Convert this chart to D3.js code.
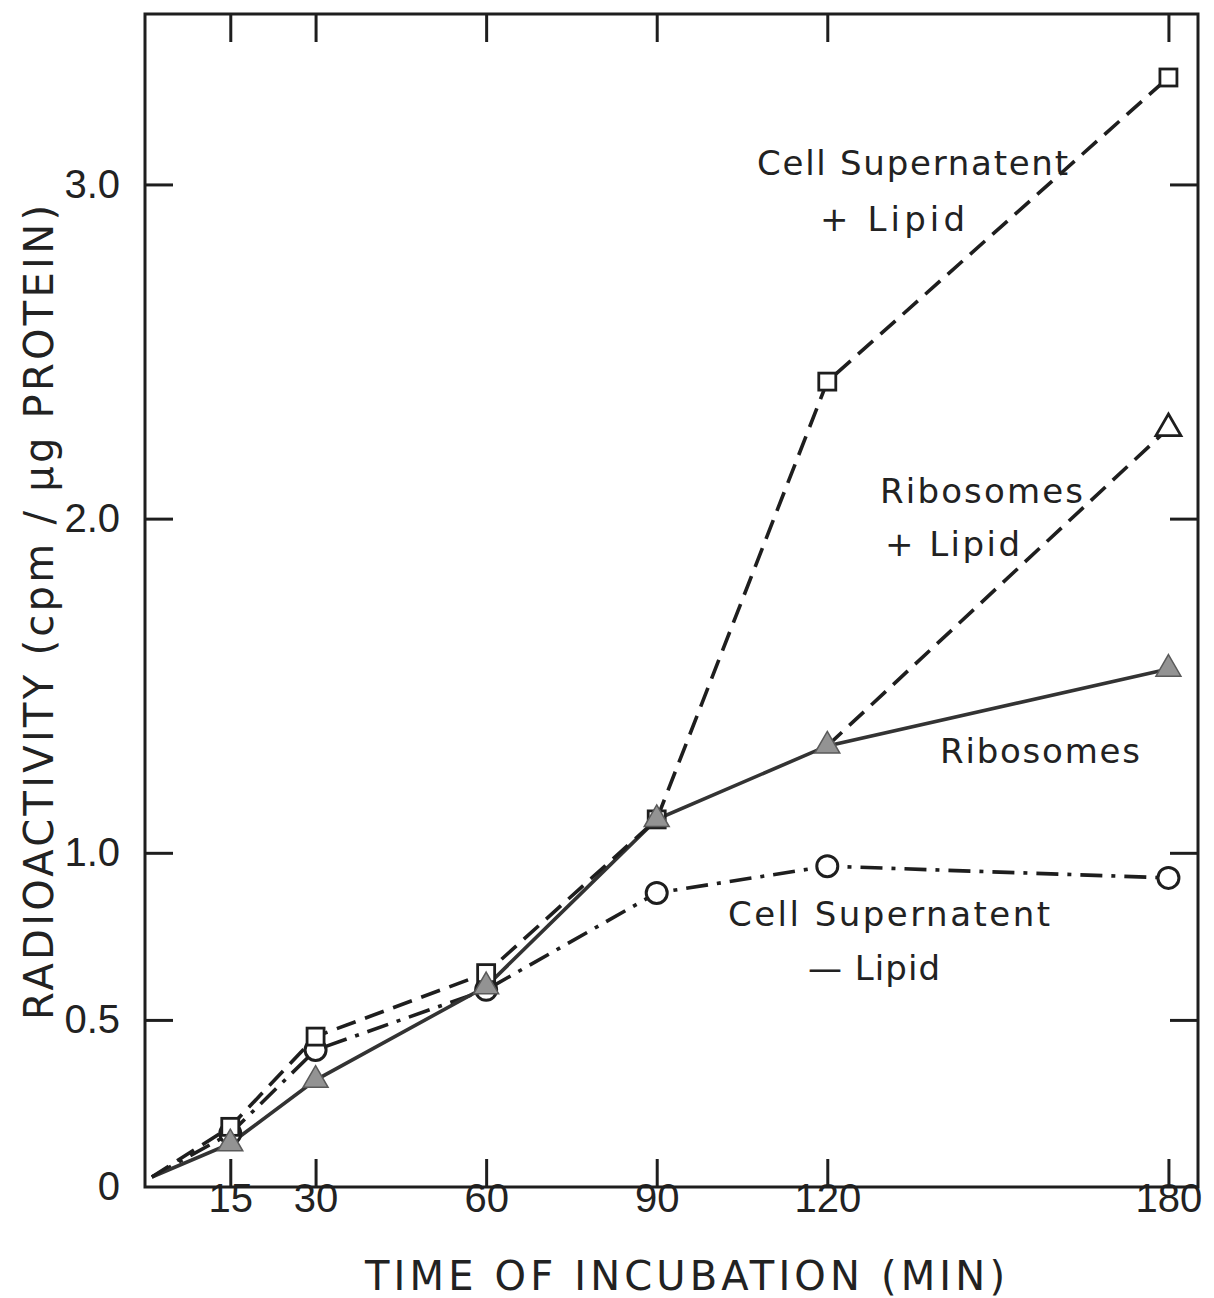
<!DOCTYPE html>
<html>
<head>
<meta charset="utf-8">
<script src="https://cdn.jsdelivr.net/npm/d3@7"></script>
<style>
  html, body { margin: 0; padding: 0; background: #fff; }
  svg { display: block; }
  text { font-family: "DejaVu Sans", sans-serif; fill: #222; }
</style>
</head>
<body>
<svg id="chart" width="1214" height="1298"></svg>
<script>
// Incubation times (min)
const times = [0, 15, 30, 60, 90, 120, 180];

// Radioactivity (cpm / µg protein) for each preparation
const cellSupLipid   = [0.03, 0.18, 0.45, 0.64, 1.10, 2.41, 3.32]; // squares, dashed
const cellSupNoLipid = [0.03, 0.16, 0.41, 0.59, 0.88, 0.96, 0.925]; // circles, dash-dot
const ribosomes      = [0.03, 0.13, 0.32, 0.60, 1.10, 1.32, 1.55]; // filled triangles, solid
const ribosomesLipid = [null, null, null, null, null, 1.32, 2.27]; // open triangle, dashed

const xTicks = [15, 30, 60, 90, 120, 180];
const yTicks = [0, 0.5, 1.0, 2.0, 3.0];
const yTickLabels = ["0", "0.5", "1.0", "2.0", "3.0"];

const svg = d3.select("#chart");
const frame = { left: 145, right: 1198, top: 14, bottom: 1187 };

const x = d3.scaleLinear().domain([0, 185.2]).range([frame.left, frame.right]);
const y = d3.scaleLinear().domain([0, 3.51]).range([frame.bottom, frame.top]);

const ink = "#1e1e1e";
const tickLen = 28;
const numFont = "'Liberation Sans', Arial, sans-serif";

// Axes: ticks point inward on all four sides
const axisStyle = g => {
  g.select(".domain").remove();
  g.selectAll(".tick line").attr("stroke", ink).attr("stroke-width", 3);
};

svg.append("g")
  .attr("transform", `translate(0,${frame.bottom})`)
  .call(d3.axisBottom(x).tickValues(xTicks).tickSize(-tickLen).tickPadding(-3).tickFormat(d3.format("d")))
  .call(axisStyle)
  .call(g => g.selectAll(".tick text").attr("font-size", 40).attr("fill", ink)
    .style("font-family", numFont));

svg.append("g")
  .attr("transform", `translate(0,${frame.top})`)
  .call(d3.axisTop(x).tickValues(xTicks).tickSize(-tickLen).tickFormat(""))
  .call(axisStyle);

svg.append("g")
  .attr("transform", `translate(${frame.left},0)`)
  .call(d3.axisLeft(y).tickValues(yTicks).tickSize(-tickLen).tickPadding(25)
    .tickFormat((d, i) => yTickLabels[i]))
  .call(axisStyle)
  .call(g => g.selectAll(".tick text").attr("font-size", 40).attr("fill", ink)
    .style("font-family", numFont))
  .call(g => g.selectAll(".tick").filter(d => d === 0).select("line").remove());

svg.append("g")
  .attr("transform", `translate(${frame.right},0)`)
  .call(d3.axisRight(y).tickValues(yTicks.filter(d => d > 0)).tickSize(-tickLen).tickFormat(""))
  .call(axisStyle);

// Frame
svg.append("rect")
  .attr("x", frame.left).attr("y", frame.top)
  .attr("width", frame.right - frame.left).attr("height", frame.bottom - frame.top)
  .attr("fill", "none").attr("stroke", ink).attr("stroke-width", 3);

// Axis titles
svg.append("text")
  .attr("x", 365).attr("y", 1290)
  .attr("font-size", 40)
  .attr("textLength", 640).attr("lengthAdjust", "spacing")
  .text("TIME OF INCUBATION (MIN)");

svg.append("text")
  .attr("transform", "translate(53,1020) rotate(-90)")
  .attr("font-size", 40)
  .attr("textLength", 815).attr("lengthAdjust", "spacing")
  .text("RADIOACTIVITY (cpm / µg PROTEIN)");

// Series lines
const line = d3.line()
  .defined(d => d.v != null)
  .x(d => x(d.t === 0 ? 1.2 : d.t))
  .y(d => y(d.v));

const pts = arr => times.map((t, i) => ({ t, v: arr[i] }));

const series = [
  { name: "cellSupNoLipid", data: pts(cellSupNoLipid), dash: "22,9,4,9", color: ink },
  { name: "ribosomes", data: pts(ribosomes), dash: null, color: "#333" },
  { name: "ribosomesLipid", data: pts(ribosomesLipid), dash: "20,10", color: ink },
  { name: "cellSupLipid", data: pts(cellSupLipid), dash: "20,10", color: ink }
];

const plot = svg.append("g");

plot.selectAll("path.series")
  .data(series)
  .join("path")
  .attr("class", "series")
  .attr("d", s => line(s.data))
  .attr("fill", "none")
  .attr("stroke", s => s.color)
  .attr("stroke-width", 3.6)
  .attr("stroke-dasharray", s => s.dash);

// Markers (none at the origin)
const markerData = arr => pts(arr).filter(d => d.t > 0 && d.v != null);

plot.selectAll("circle.m")
  .data(markerData(cellSupNoLipid))
  .join("circle")
  .attr("class", "m")
  .attr("cx", d => x(d.t)).attr("cy", d => y(d.v)).attr("r", 10.5)
  .attr("fill", "#fff").attr("stroke", ink).attr("stroke-width", 3);

plot.selectAll("rect.m")
  .data(markerData(cellSupLipid))
  .join("rect")
  .attr("class", "m")
  .attr("x", d => x(d.t) - 8.5).attr("y", d => y(d.v) - 8.5)
  .attr("width", 17).attr("height", 17)
  .attr("fill", "#fff").attr("stroke", ink).attr("stroke-width", 2.8);

const tri = d3.symbol().type(d3.symbolTriangle).size(270);

plot.selectAll("path.filled")
  .data(markerData(ribosomes))
  .join("path")
  .attr("class", "filled")
  .attr("transform", d => `translate(${x(d.t)},${y(d.v)})`)
  .attr("d", tri)
  .attr("fill", "#939393").attr("stroke", "#5a5a5a").attr("stroke-width", 1.5);

plot.selectAll("path.open")
  .data(markerData(ribosomesLipid).filter(d => d.t === 180))
  .join("path")
  .attr("class", "open")
  .attr("transform", d => `translate(${x(d.t)},${y(d.v)})`)
  .attr("d", tri)
  .attr("fill", "#fff").attr("stroke", ink).attr("stroke-width", 2.8);

// Curve labels
const labels = [
  { text: "Cell Supernatent", x: 757, y: 175, w: 311 },
  { text: "+ Lipid", x: 820, y: 231, w: 145 },
  { text: "Ribosomes", x: 880, y: 503, w: 203 },
  { text: "+ Lipid", x: 885, y: 556, w: 135 },
  { text: "Ribosomes", x: 940, y: 763, w: 200 },
  { text: "Cell Supernatent", x: 728, y: 926, w: 322 },
  { text: "\u2014 Lipid", x: 808, y: 980, w: 132 }
];

svg.append("g").selectAll("text")
  .data(labels)
  .join("text")
  .attr("x", d => d.x).attr("y", d => d.y)
  .attr("font-size", 34)
  .attr("textLength", d => d.w).attr("lengthAdjust", "spacing")
  .text(d => d.text);
</script>
</body>
</html>
